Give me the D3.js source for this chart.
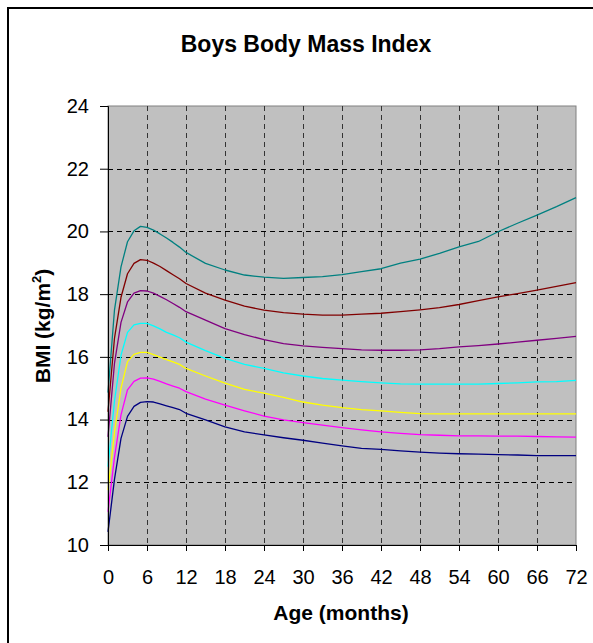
<!DOCTYPE html>
<html>
<head>
<meta charset="utf-8">
<script src="https://cdn.jsdelivr.net/npm/d3@7"></script>
<style>
    body { margin: 0; background: #fff; }
    svg text { font-family: Arial, "Liberation Sans", sans-serif; }
</style>
</head>
<body>
<div id="chart"></div>
<script>
const months = [0, 1, 2, 3, 4, 5, 6, 7, 8, 9, 10, 11, 12, 15, 18, 21, 24, 27, 30, 33, 36,
    39, 42, 45, 48, 51, 54, 57, 60, 63, 66, 69, 72]

const bmi_teal = [14.86, 17.5, 18.87, 19.67, 20.02, 20.16, 20.13, 20.04, 19.92, 19.79, 19.65, 19.5, 19.33,
    18.98, 18.77, 18.61, 18.54, 18.5, 18.53, 18.56, 18.62, 18.72, 18.81, 18.99, 19.12, 19.3, 19.51,
    19.68, 19.99, 20.26, 20.52, 20.79, 21.08]
const bmi_darkred = [14.25, 16.6, 17.9, 18.65, 18.98, 19.1, 19.08, 18.99, 18.88, 18.75, 18.62, 18.49, 18.34,
    18.03, 17.81, 17.62, 17.49, 17.41, 17.36, 17.33, 17.33, 17.36, 17.39, 17.44, 17.5, 17.57, 17.67,
    17.79, 17.91, 18.02, 18.13, 18.25, 18.37]
const bmi_purple = [13.45, 15.8, 17.1, 17.75, 18.03, 18.11, 18.1, 18.03, 17.93, 17.82, 17.7, 17.58, 17.44,
    17.17, 16.9, 16.71, 16.55, 16.42, 16.35, 16.3, 16.26, 16.22, 16.21, 16.21, 16.22, 16.26, 16.32,
    16.36, 16.41, 16.47, 16.53, 16.59, 16.65]
const bmi_cyan = [12.5, 14.6, 16.05, 16.78, 17.02, 17.07, 17.07, 16.99, 16.89, 16.78, 16.7, 16.61, 16.47,
    16.2, 15.95, 15.76, 15.63, 15.49, 15.39, 15.31, 15.26, 15.21, 15.17, 15.14, 15.13, 15.13, 15.13,
    15.13, 15.15, 15.17, 15.2, 15.21, 15.25]
const bmi_yellow = [11.75, 13.6, 15.0, 15.85, 16.08, 16.14, 16.14, 16.07, 15.99, 15.91, 15.84, 15.76, 15.63,
    15.39, 15.16, 14.96, 14.84, 14.71, 14.56, 14.46, 14.38, 14.32, 14.28, 14.23, 14.19, 14.18, 14.18,
    14.18, 14.18, 14.18, 14.18, 14.18, 14.18]
const bmi_magenta = [11.06, 12.8, 14.15, 14.95, 15.22, 15.32, 15.33, 15.29, 15.22, 15.14, 15.07, 15.0, 14.89,
    14.65, 14.46, 14.28, 14.11, 13.99, 13.9, 13.82, 13.74, 13.67, 13.61, 13.56, 13.52, 13.5, 13.48,
    13.48, 13.47, 13.47, 13.46, 13.45, 13.44]
const bmi_navy = [10.42, 12.1, 13.4, 14.1, 14.42, 14.55, 14.57, 14.56, 14.5, 14.44, 14.38, 14.32, 14.2,
    13.99, 13.77, 13.61, 13.51, 13.42, 13.34, 13.25, 13.16, 13.08, 13.05, 13.0, 12.96, 12.93, 12.91,
    12.9, 12.88, 12.87, 12.85, 12.85, 12.85]

const series = [
    { 'name': 'teal', 'color': '#008080', 'values': bmi_teal },
    { 'name': 'darkred', 'color': '#800000', 'values': bmi_darkred },
    { 'name': 'purple', 'color': '#800080', 'values': bmi_purple },
    { 'name': 'cyan', 'color': '#00ffff', 'values': bmi_cyan },
    { 'name': 'yellow', 'color': '#ffff00', 'values': bmi_yellow },
    { 'name': 'magenta', 'color': '#ff00ff', 'values': bmi_magenta },
    { 'name': 'navy', 'color': '#000080', 'values': bmi_navy },
]

const x_ticks = [0, 6, 12, 18, 24, 30, 36, 42, 48, 54, 60, 66, 72]
const y_ticks = [10, 12, 14, 16, 18, 20, 22, 24]

const width = 593
const height = 643
const plot = { left: 108, right: 576, top: 106, bottom: 545 }

const svg = d3.select('#chart')
    .append('svg')
    .attr('width', width)
    .attr('height', height)

// outer chart border, runs off the right/bottom edge like the original
svg.append('rect')
    .attr('x', 8)
    .attr('y', 8)
    .attr('width', 620)
    .attr('height', 680)
    .attr('fill', 'none')
    .attr('stroke', '#000')
    .attr('stroke-width', 2)

const x = d3.scaleLinear().domain([0, 72]).range([plot.left, plot.right])
const y = d3.scaleLinear().domain([10, 24]).range([plot.bottom, plot.top])

svg.append('rect')
    .attr('x', plot.left)
    .attr('y', plot.top)
    .attr('width', plot.right - plot.left)
    .attr('height', plot.bottom - plot.top)
    .attr('fill', '#c0c0c0')
    .attr('stroke', '#808080')
    .attr('stroke-width', 1)

// dashed gridlines (verticals come out a bit greyer in the original)
svg.append('g')
    .selectAll('line')
    .data(x_ticks.slice(1, -1))
    .enter()
    .append('line')
    .attr('x1', d => Math.round(x(d)) + 0.5)
    .attr('x2', d => Math.round(x(d)) + 0.5)
    .attr('y1', plot.top)
    .attr('y2', plot.bottom)
    .attr('stroke', '#333')
    .attr('stroke-dasharray', '5,4')

svg.append('g')
    .selectAll('line')
    .data(y_ticks.slice(1, -1))
    .enter()
    .append('line')
    .attr('x1', plot.left)
    .attr('x2', plot.right)
    .attr('y1', d => Math.round(y(d)) + 0.5)
    .attr('y2', d => Math.round(y(d)) + 0.5)
    .attr('stroke', '#000')
    .attr('stroke-dasharray', '5,4')

// curves
const line = d3.line()
    .x((d, i) => x(months[i]))
    .y(d => y(d))

svg.append('g')
    .selectAll('path')
    .data(series)
    .enter()
    .append('path')
    .attr('d', d => line(d.values))
    .attr('fill', 'none')
    .attr('stroke', d => d.color)
    .attr('stroke-width', 1.3)
    .attr('stroke-linejoin', 'round')

// axes
const x_axis = d3.axisBottom(x).tickValues(x_ticks).tickSize(6).tickPadding(19)
const y_axis = d3.axisLeft(y).tickValues(y_ticks).tickSize(8).tickPadding(11)

const gx = svg.append('g')
    .attr('transform', `translate(0, ${plot.bottom})`)
    .call(x_axis)
const gy = svg.append('g')
    .attr('transform', `translate(${plot.left}, 0)`)
    .call(y_axis)

for (const g of [gx, gy]) {
    g.select('.domain').attr('stroke', '#000')
    g.selectAll('.tick line').attr('stroke', '#000')
    g.selectAll('.tick text')
        .attr('fill', '#000')
        .style('font-size', '20px')
        .style('font-family', 'Arial, "Liberation Sans", sans-serif')
}

svg.append('text')
    .attr('x', 306)
    .attr('y', 52)
    .attr('text-anchor', 'middle')
    .style('font-size', '23px')
    .style('font-weight', 'bold')
    .text('Boys Body Mass Index')

svg.append('text')
    .attr('x', 341)
    .attr('y', 620)
    .attr('text-anchor', 'middle')
    .style('font-size', '21px')
    .style('font-weight', 'bold')
    .text('Age (months)')

const y_title = svg.append('text')
    .attr('transform', 'translate(50, 326) rotate(-90)')
    .attr('text-anchor', 'middle')
    .style('font-size', '21px')
    .style('font-weight', 'bold')
y_title.append('tspan').text('BMI (kg/m')
y_title.append('tspan').attr('dy', -9).style('font-size', '13px').text('2')
y_title.append('tspan').attr('dy', 9).text(')')
</script>
</body>
</html>
